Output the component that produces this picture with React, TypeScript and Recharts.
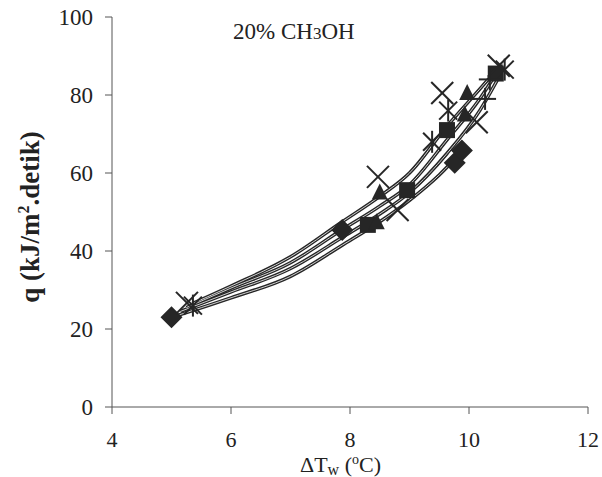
import React from 'react';
import { ScatterChart, Scatter, XAxis, YAxis } from 'recharts';

// ΔTw (°C) vs q (kJ/m².detik), 20% CH3OH

// measured points, one array per marker type
const diamondPts = [
  { x: 5.0, y: 23 },
  { x: 7.87, y: 45.4 },
  { x: 9.76, y: 62.6 },
  { x: 9.88, y: 65.8 },
];
const squarePts = [
  { x: 8.3, y: 46.7 },
  { x: 8.96, y: 55.6 },
  { x: 9.63, y: 71 },
  { x: 10.45, y: 85.5 },
];
const trianglePts = [
  { x: 8.45, y: 47.4 },
  { x: 8.5, y: 55 },
  { x: 9.93, y: 75 },
  { x: 9.97, y: 80.5 },
];
const xPts = [
  { x: 5.26, y: 26.7 },
  { x: 8.47, y: 59 },
  { x: 8.8, y: 50.5 },
  { x: 9.55, y: 80.5 },
  { x: 10.13, y: 73 },
  { x: 10.5, y: 87.5 },
];
const starPts = [
  { x: 5.36, y: 26 },
  { x: 9.38, y: 68 },
  { x: 9.65, y: 76 },
  { x: 10.6, y: 86.5 },
];
const plusPts = [
  { x: 10.27, y: 79 },
  { x: 10.35, y: 84 },
];

// curves
const curveD = [
  { x: 5.0, y: 23 },
  { x: 6, y: 28 },
  { x: 7, y: 33.5 },
  { x: 7.87, y: 41.5 },
  { x: 8.5, y: 47.5 },
  { x: 9.0, y: 53 },
  { x: 9.5, y: 59.5 },
  { x: 9.88, y: 65.5 },
];
const curveB = [
  { x: 5.15, y: 24.5 },
  { x: 6, y: 29.5 },
  { x: 7, y: 35.5 },
  { x: 7.87, y: 43.5 },
  { x: 8.5, y: 49.5 },
  { x: 9.0, y: 55 },
  { x: 9.63, y: 65 },
  { x: 10.18, y: 76 },
  { x: 10.5, y: 84.5 },
];
const curveC = [
  { x: 5.25, y: 25.5 },
  { x: 6, y: 30.5 },
  { x: 7, y: 37 },
  { x: 7.87, y: 45.5 },
  { x: 8.5, y: 51.5 },
  { x: 9.0, y: 57 },
  { x: 9.63, y: 68.5 },
  { x: 10.18, y: 79 },
  { x: 10.5, y: 86.5 },
];
const curveA = [
  { x: 5.35, y: 26.5 },
  { x: 6, y: 31 },
  { x: 7, y: 38.5 },
  { x: 7.87, y: 47.5 },
  { x: 8.5, y: 54 },
  { x: 9.0, y: 60 },
  { x: 9.63, y: 72 },
  { x: 10.18, y: 81.5 },
  { x: 10.55, y: 88 },
];

const xTicks = [4, 6, 8, 10, 12];
const yTicks = [0, 20, 40, 60, 80, 100];

const INK = '#262626';
const FONT = '"Liberation Serif", "DejaVu Serif", serif';

const Diamond = (p: any) => {
  const { cx, cy } = p;
  const r = 11;
  return <polygon points={`${cx},${cy - r} ${cx + r},${cy} ${cx},${cy + r} ${cx - r},${cy}`} fill={INK} />;
};
const Square = (p: any) => {
  const { cx, cy } = p;
  return <rect x={cx - 8} y={cy - 8} width={16} height={16} fill={INK} />;
};
const Triangle = (p: any) => {
  const { cx, cy } = p;
  return <polygon points={`${cx},${cy - 9} ${cx + 8},${cy + 7} ${cx - 8},${cy + 7}`} fill={INK} />;
};
const XMark = (p: any) => {
  const { cx, cy } = p;
  const r = 11;
  return (
    <g stroke={INK} strokeWidth={2}>
      <line x1={cx - r} y1={cy - r} x2={cx + r} y2={cy + r} />
      <line x1={cx - r} y1={cy + r} x2={cx + r} y2={cy - r} />
    </g>
  );
};
const Star = (p: any) => {
  const { cx, cy } = p;
  const r = 9;
  return (
    <g stroke={INK} strokeWidth={2}>
      <line x1={cx - r} y1={cy - r} x2={cx + r} y2={cy + r} />
      <line x1={cx - r} y1={cy + r} x2={cx + r} y2={cy - r} />
      <line x1={cx} y1={cy - r - 2} x2={cx} y2={cy + r + 2} />
    </g>
  );
};
const Plus = (p: any) => {
  const { cx, cy } = p;
  const r = 11;
  return (
    <g stroke={INK} strokeWidth={2}>
      <line x1={cx - r} y1={cy} x2={cx + r} y2={cy} />
      <line x1={cx} y1={cy - r} x2={cx} y2={cy + r} />
    </g>
  );
};
const NoDot = () => <g />;

const outerLine = { stroke: INK, strokeWidth: 3.5 };
const innerLine = { stroke: '#d0d0d0', strokeWidth: 1 };
const tickStyle = { fill: '#222', fontSize: 22, fontFamily: FONT };

const curves = [curveD, curveB, curveC, curveA];
const markers: [any[], (p: any) => React.ReactElement][] = [
  [diamondPts, Diamond],
  [squarePts, Square],
  [trianglePts, Triangle],
  [xPts, XMark],
  [starPts, Star],
  [plusPts, Plus],
];

export default function App() {
  return (
    <div style={{ position: 'absolute', left: 0, top: 0, width: 602, height: 477, background: '#fff', fontFamily: FONT }}>
      <ScatterChart width={602} height={477} margin={{ top: 17, right: 14, bottom: 0, left: 0 }}>
        <XAxis
          type="number"
          dataKey="x"
          domain={[4, 12]}
          ticks={xTicks}
          allowDataOverflow
          height={70}
          stroke="#555"
          tickSize={7}
          tickMargin={17}
          tick={tickStyle}
        />
        <YAxis
          type="number"
          dataKey="y"
          domain={[0, 100]}
          ticks={yTicks}
          width={112}
          stroke="#555"
          tickSize={7}
          tickMargin={12}
          tick={{ ...tickStyle, fontSize: 23 }}
        />
        {curves.map((c, i) => (
          <Scatter key={`o${i}`} data={c} line={outerLine} lineJointType="monotoneX" shape={NoDot} isAnimationActive={false} />
        ))}
        {curves.map((c, i) => (
          <Scatter key={`i${i}`} data={c} line={innerLine} lineJointType="monotoneX" shape={NoDot} isAnimationActive={false} />
        ))}
        {markers.map(([d, s], i) => (
          <Scatter key={`m${i}`} data={d} shape={s} isAnimationActive={false} />
        ))}
      </ScatterChart>

      <div style={{ position: 'absolute', left: 233, top: 19, fontSize: 23, lineHeight: '26px', color: '#222', whiteSpace: 'nowrap' }}>
        20% CH<span style={{ fontSize: 17 }}>3</span>OH
      </div>

      <div style={{ position: 'absolute', left: 300, top: 452, fontSize: 22, lineHeight: '25px', color: '#222', whiteSpace: 'nowrap' }}>
        ΔT<span style={{ fontSize: 16, position: 'relative', top: 3 }}>w</span> (<span style={{ fontSize: 14, position: 'relative', top: -8 }}>o</span>C)
      </div>

      <div
        style={{
          position: 'absolute',
          left: 32,
          top: 217,
          transform: 'translate(-50%, -50%) rotate(-90deg)',
          fontSize: 27,
          lineHeight: '30px',
          fontWeight: 'bold',
          color: '#222',
          whiteSpace: 'nowrap',
        }}
      >
        q (kJ/m<span style={{ fontSize: 16, position: 'relative', top: -10 }}>2</span>.detik)
      </div>
    </div>
  );
}
